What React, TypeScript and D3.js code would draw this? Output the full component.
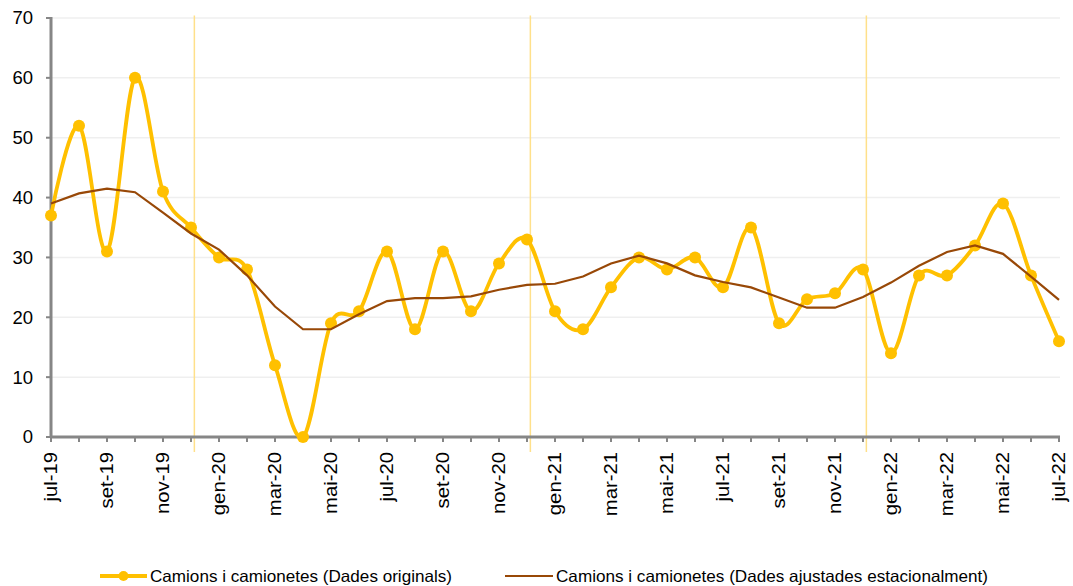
import React from 'react';
import * as d3 from 'd3';

const months = [
  'jul-19', 'ago-19', 'set-19', 'oct-19', 'nov-19', 'des-19',
  'gen-20', 'feb-20', 'mar-20', 'abr-20', 'mai-20', 'jun-20', 'jul-20', 'ago-20', 'set-20', 'oct-20', 'nov-20', 'des-20',
  'gen-21', 'feb-21', 'mar-21', 'abr-21', 'mai-21', 'jun-21', 'jul-21', 'ago-21', 'set-21', 'oct-21', 'nov-21', 'des-21',
  'gen-22', 'feb-22', 'mar-22', 'abr-22', 'mai-22', 'jun-22', 'jul-22',
];

const originals = [
  37, 52, 31, 60, 41, 35,
  30, 28, 12, 0, 19, 21, 31, 18, 31, 21, 29, 33,
  21, 18, 25, 30, 28, 30, 25, 35, 19, 23, 24, 28,
  14, 27, 27, 32, 39, 27, 16,
];

const adjusted = [
  39, 40.7, 41.5, 40.9, 37.5, 34,
  31.3, 27, 21.8, 18, 18, 20.5, 22.7, 23.2, 23.2, 23.5, 24.6, 25.4,
  25.6, 26.8, 29, 30.3, 29, 27, 25.9, 25, 23.3, 21.6, 21.6, 23.4,
  25.8, 28.6, 30.9, 32, 30.6, 26.8, 22.9,
];

// year separators sit just after the december tick
const yearBreaks = ['des-19', 'des-20', 'des-21'];
const yTicks = [0, 10, 20, 30, 40, 50, 60, 70];

const legendLabels = [
  'Camions i camionetes (Dades originals)',
  'Camions i camionetes (Dades ajustades estacionalment)',
];

const YELLOW = '#FFC000';
const BROWN = '#984807';
const AXIS = '#868686';
const FONT = '"Liberation Sans", Arial, sans-serif';

export default function App() {
  const width = 1073;
  const height = 586;
  const left = 51;
  const right = 1059;
  const top = 18;
  const bottom = 437;

  const x = d3.scaleLinear().domain([0, months.length - 1]).range([left, right]);
  const y = d3.scaleLinear().domain([0, 70]).range([bottom, top]);

  const smooth = d3
    .line<number>()
    .x((_, i) => x(i))
    .y((d) => y(d))
    .curve(d3.curveCardinal.tension(0));

  const straight = d3
    .line<number>()
    .x((_, i) => x(i))
    .y((d) => y(d));

  return (
    <svg
      width={width}
      height={height}
      style={{ position: 'absolute', left: 0, top: 0, background: '#fff' }}
      fontFamily={FONT}
    >
      {/* gridlines */}
      {yTicks.slice(1).map((t) => (
        <line key={t} x1={left} x2={right + 1} y1={y(t)} y2={y(t)} stroke="#efefef" strokeWidth={1.5} />
      ))}

      {/* year separators */}
      {yearBreaks.map((m) => {
        const xi = x(months.indexOf(m) + 0.12);
        return <line key={m} x1={xi} x2={xi} y1={y(70.4)} y2={452} stroke="#FFE08A" strokeWidth={1.5} />;
      })}

      {/* y axis */}
      <line x1={left} x2={left} y1={top - 1} y2={bottom + 1} stroke={AXIS} strokeWidth={3} />
      {yTicks.map((t) => (
        <g key={t}>
          <line x1={left - 5} x2={left} y1={y(t)} y2={y(t)} stroke={AXIS} strokeWidth={2} />
          <text x={33} y={y(t)} dy="0.35em" textAnchor="end" fontSize={18.5} fill="#000">
            {t}
          </text>
        </g>
      ))}

      {/* x axis */}
      <line x1={left} x2={right + 1} y1={bottom} y2={bottom} stroke={AXIS} strokeWidth={3} />
      {months.map((m, i) => (
        <line key={m} x1={x(i)} x2={x(i)} y1={bottom} y2={bottom + 5} stroke={AXIS} strokeWidth={2} />
      ))}
      {months.map((m, i) =>
        i % 2 === 0 ? (
          <text
            key={m}
            transform={`translate(${x(i)},452) rotate(-90) scale(1.16,1)`}
            dy="0.35em"
            textAnchor="end"
            fontSize={17.5}
            fill="#000"
          >
            {m}
          </text>
        ) : null
      )}

      {/* series */}
      <path d={smooth(originals) ?? ''} fill="none" stroke={YELLOW} strokeWidth={3.8} />
      {originals.map((v, i) => (
        <circle key={i} cx={x(i)} cy={y(v)} r={6} fill={YELLOW} />
      ))}
      <path d={straight(adjusted) ?? ''} fill="none" stroke={BROWN} strokeWidth={2.2} />

      {/* legend */}
      <g>
        <line x1={100} x2={147} y1={576} y2={576} stroke={YELLOW} strokeWidth={3.8} />
        <circle cx={123.5} cy={576} r={5} fill={YELLOW} />
        <text x={150} y={582} fontSize={16.5} textLength={302} lengthAdjust="spacingAndGlyphs" fill="#000">
          {legendLabels[0]}
        </text>
        <line x1={505} x2={553} y1={576} y2={576} stroke={BROWN} strokeWidth={2.2} />
        <text x={556} y={582} fontSize={16.5} textLength={432} lengthAdjust="spacingAndGlyphs" fill="#000">
          {legendLabels[1]}
        </text>
      </g>
    </svg>
  );
}
